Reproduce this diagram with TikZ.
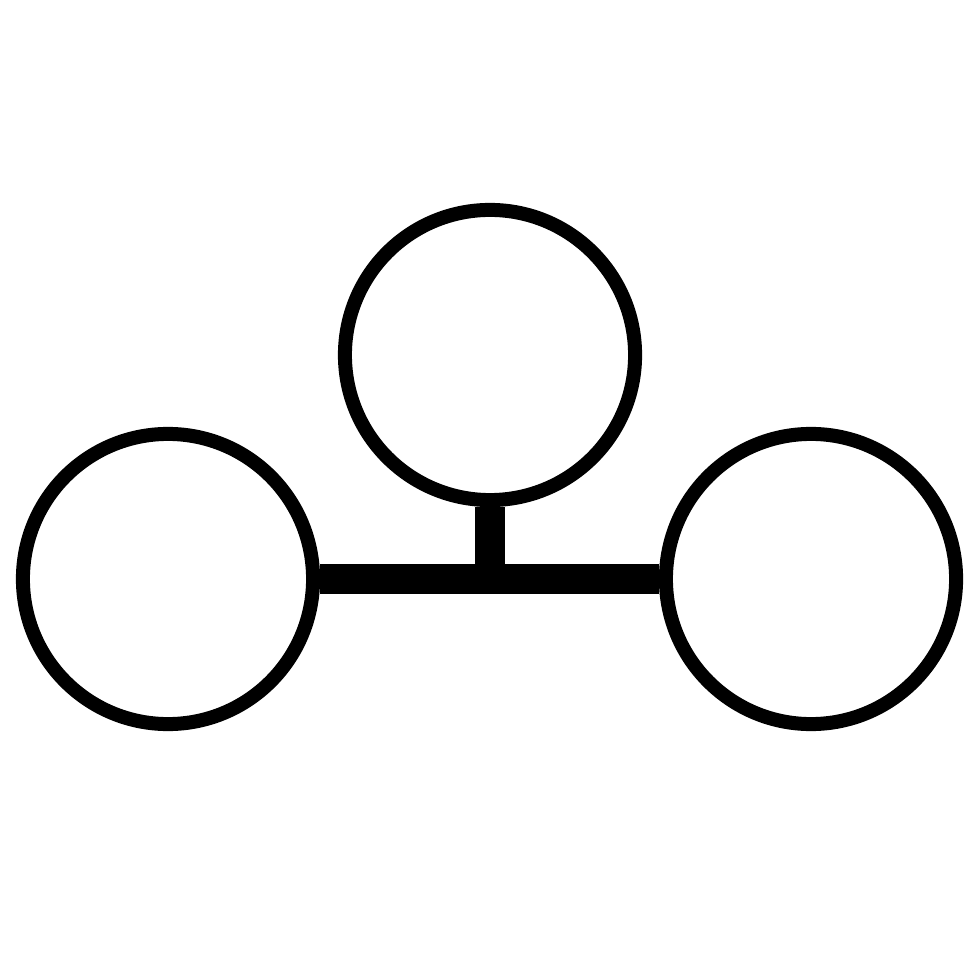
\documentclass[tikz,border=0pt]{standalone}
\usepackage{tikz}
\usetikzlibrary{calc}

\begin{document}
\begin{tikzpicture}[x=0.01cm, y=-0.01cm,
    ring/.style={draw, circle, line width=0.14cm, minimum size=2.9cm, inner sep=0pt},
    bar/.style={line width=0.3cm}]
    \useasboundingbox (0, 0) rectangle (980, 980);

    \node[ring] (top) at (490, 355) {};
    \node[ring] (left) at (168, 579) {};
    \node[ring] (right) at (811, 579) {};

    \coordinate (joint) at (top.south |- left.east);
    \draw[bar] (left.east) -- (right.west);
    \draw[bar] (top.south) -- (joint);
  \end{tikzpicture}
\end{document}
